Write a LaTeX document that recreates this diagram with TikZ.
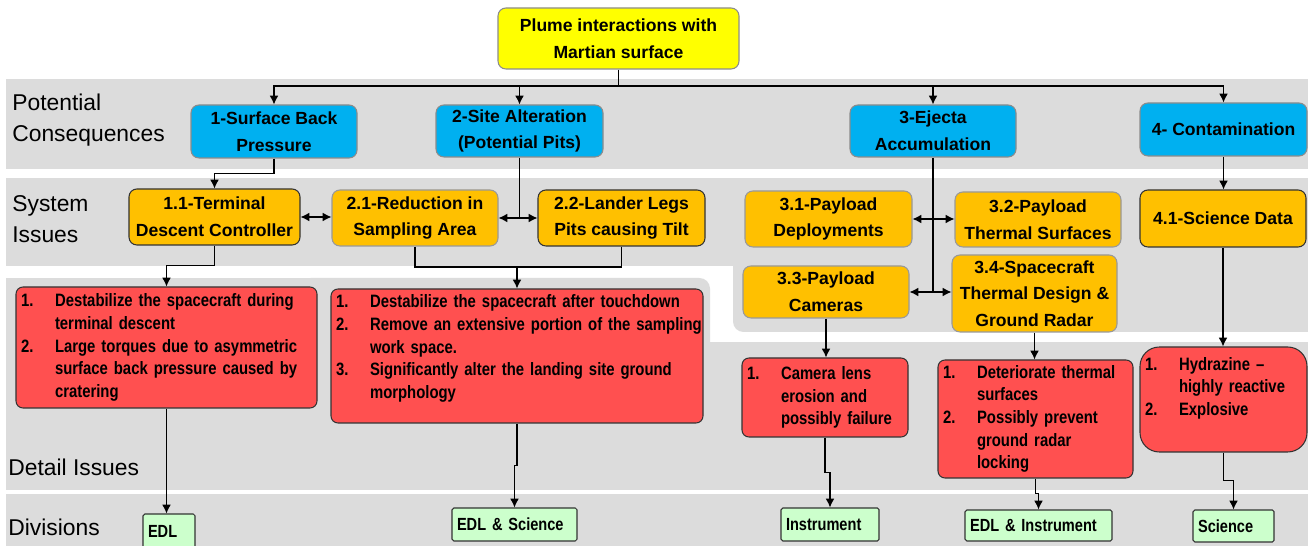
\documentclass[tikz,border=0pt]{standalone}
\usepackage{fontspec}
\setmainfont{Liberation Sans}
\newfontfamily\narrowfont{Liberation Sans}[FakeStretch=0.83]
\usetikzlibrary{arrows.meta}
\definecolor{lanegray}{HTML}{DCDCDC}
\definecolor{plumeyellow}{HTML}{FFFF00}
\definecolor{consblue}{HTML}{00B0F0}
\definecolor{sysorange}{HTML}{FFC000}
\definecolor{detailred}{HTML}{FF5050}
\definecolor{divgreen}{HTML}{CCFFCC}
\newcommand{\itm}[2]{\mbox{\makebox[0.68cm][l]{#1}#2}}
\newcommand{\cnt}[1]{\mbox{\hspace*{0.68cm}#1}}
\tikzset{
  sz/.style 2 args={minimum width=#1*0.02cm,minimum height=#2*0.02cm},
  box/.style={rounded corners=4.5pt,inner sep=1pt,align=center,line width=.6pt,font=\fontsize{10}{15.2}\selectfont\bfseries},
  plumebox/.style={box,fill=plumeyellow,draw=black!45},
  consbox/.style={box,fill=consblue,draw=black!45},
  sysbox/.style={box,fill=sysorange,draw=black!80},
  syslight/.style={box,fill=sysorange,draw=black!40},
  detailbox/.style={rounded corners=4pt,fill=detailred,draw=black!80,line width=.6pt,inner xsep=0.1cm,inner ysep=0pt,align=left,font=\narrowfont\fontsize{10.2}{12.9}\selectfont\bfseries},
  divbox/.style={rounded corners=1pt,fill=divgreen,draw=black!80,line width=.6pt,inner xsep=0.1cm,inner ysep=0pt,align=left,font=\narrowfont\fontsize{10}{12}\selectfont\bfseries},
  lane/.style={anchor=west,inner sep=0pt,align=left,font=\fontsize{13}{17.6}\selectfont},
  link/.style={line width=.7pt},
  >={Latex[length=5pt,width=5pt]},
}
\begin{document}
\begin{tikzpicture}[x=0.02cm,y=-0.02cm]
\path[use as bounding box,fill=white] (0,0) rectangle (1311,546);
\fill[lanegray] (6,79) rectangle (1308,169);
\fill[lanegray] (6,178) rectangle (1308,266);
\fill[lanegray,rounded corners=6pt] (733,200) rectangle (1100,332);
\fill[lanegray] (1000,178) rectangle (1308,332);
\fill[lanegray] (6,278) rectangle (400,342);
\fill[lanegray,rounded corners=6pt] (300,278) rectangle (710,360);
\fill[lanegray] (6,342) rectangle (1308,490);
\fill[lanegray] (6,494) rectangle (1308,550);

\node[lane] (potential) at (12,120) {Potential\\Consequences};
\node[lane] (system) at (12,219) {System\\Issues};
\node[lane] (detail) at (8,467) {Detail Issues};
\node[lane] (divisions) at (8,527) {Divisions};

\node[plumebox,sz={241}{61}] (plume) at (618.5,38.5) {Plume interactions with\\Martian surface};

\node[consbox,sz={166}{53}] (cons1) at (274,131.5) {1-Surface Back\\Pressure};
\node[consbox,sz={167}{52}] (cons2) at (519.5,131) {2-Site Alteration\\(Potential Pits)};
\node[consbox,sz={166}{52}] (cons3) at (933,131) {3-Ejecta\\Accumulation};
\node[consbox,sz={167}{53}] (cons4) at (1223.5,129.5) {4- Contamination};

\node[sysbox,sz={171}{56}] (sys11) at (214.5,217) {1.1-Terminal\\Descent Controller};
\node[syslight,sz={166}{56}] (sys21) at (415,218) {2.1-Reduction in\\Sampling Area};
\node[sysbox,sz={167}{56}] (sys22) at (621.5,218) {2.2-Lander Legs\\Pits causing Tilt};
\node[syslight,sz={167}{56}] (sys31) at (828.5,219) {3.1-Payload\\Deployments};
\node[syslight,sz={166}{55}] (sys32) at (1038,219.5) {3.2-Payload\\Thermal Surfaces};
\node[syslight,sz={166}{52}] (sys33) at (826,292) {3.3-Payload\\Cameras};
\node[syslight,sz={165}{77}] (sys34) at (1034.5,293.5) {3.4-Spacecraft\\Thermal Design \&\\Ground Radar};
\node[sysbox,sz={166}{57}] (sys41) at (1223,218.5) {4.1-Science Data};

\node[detailbox,sz={301}{121},text width=5.82cm] (det1) at (166.5,347.5)
  {\itm{1.}{Destabilize the spacecraft during}\\ \cnt{terminal descent}\\
   \itm{2.}{Large torques due to asymmetric}\\ \cnt{surface back pressure caused by}\\ \cnt{cratering}};
\node[detailbox,sz={372}{134},text width=7.24cm] (det2) at (517,356)
  {\itm{1.}{Destabilize the spacecraft after touchdown}\\
   \itm{2.}{Remove an extensive portion of the sampling}\\ \cnt{work space.}\\
   \itm{3.}{Significantly alter the landing site ground}\\ \cnt{morphology}\rule[-0.37cm]{0pt}{0.37cm}};
\node[detailbox,sz={166}{79},text width=3.12cm] (det3) at (825,397.5)
  {\itm{1.}{Camera lens}\\ \cnt{erosion and}\\ \cnt{possibly failure}};
\node[detailbox,sz={195}{118},text width=3.70cm] (det34) at (1035.5,419)
  {\itm{1.}{Deteriorate thermal}\\ \cnt{surfaces}\\
   \itm{2.}{Possibly prevent}\\ \cnt{ground radar}\\ \cnt{locking}};
\node[detailbox,rounded corners=11pt,sz={167}{105},text width=3.14cm] (det4) at (1223.5,399.5)
  {\itm{1.}{Hydrazine –}\\ \cnt{highly reactive}\\
   \itm{2.}{Explosive}\rule[-0.53cm]{0pt}{0.53cm}};

\node[divbox,sz={52}{34},text width=0.84cm] (edl) at (169,531) {EDL};
\node[divbox,sz={125}{33},text width=2.30cm] (edlsci) at (514.5,524.5) {EDL \& Science};
\node[divbox,sz={98}{33},text width=1.76cm] (instr) at (830,524.5) {Instrument};
\node[divbox,sz={147}{31},text width=2.74cm] (edlinstr) at (1038.5,525.5) {EDL \& Instrument};
\node[divbox,sz={81}{32},text width=1.42cm] (sci) at (1233.5,526) {Science};

\coordinate (bus) at (618.5,86);
\draw[link] (plume.south) -- (bus);
\draw[link,->] (bus) -| (cons1.north);
\draw[link,->] (bus) -| (cons2.north);
\draw[link,->] (bus) -| (cons3.north);
\draw[link,->] (bus) -| (cons4.north);

\draw[link,->] (cons1.south) -- ++(0,15) -| (sys11.north);
\draw[link,<->] (sys11.east) -- (sys11.east -| sys21.west);
\coordinate (split2) at (cons2.south |- sys21.east);
\draw[link] (cons2.south) -- (split2);
\draw[link,->] (split2) -- (sys21.east);
\draw[link,->] (split2) -- (split2 -| sys22.west);
\coordinate (merge2) at (517,267);
\draw[link] (sys21.south) |- (merge2);
\draw[link] (sys22.south) |- (merge2);
\draw[link,->] (merge2) -- (det2.north);
\draw[link,->] (sys11.south) -- ++(0,20) -| (det1.north);

\coordinate (split3a) at (cons3.south |- sys31.east);
\coordinate (split3b) at (cons3.south |- sys33.east);
\draw[link] (cons3.south) -- (split3b);
\draw[link,->] (split3a) -- (sys31.east);
\draw[link,->] (split3a) -- (split3a -| sys32.west);
\draw[link,->] (split3b) -- (sys33.east);
\draw[link,->] (split3b) -- (split3b -| sys34.west);
\draw[link,->] (sys33.south) -- (sys33.south |- det3.north);
\draw[link,->] (sys34.south) -- (sys34.south |- det34.north);

\draw[link,->] (cons4.south) -- (cons4.south |- sys41.north);
\draw[link,->] (sys41.south) -- (sys41.south |- det4.north);

\draw[link,->] (det1.south) -- (det1.south |- edl.north);
\draw[link,->] (det2.south) -- ++(0,42) -| (edlsci.north);
\draw[link,->] (det3.south) -- ++(0,35) -| (instr.north);
\draw[link,->] (det34.south) -- ++(0,15) -| (edlinstr.north);
\draw[link,->] (det4.south) -- ++(0,28) -| (sci.north);
\end{tikzpicture}
\end{document}
